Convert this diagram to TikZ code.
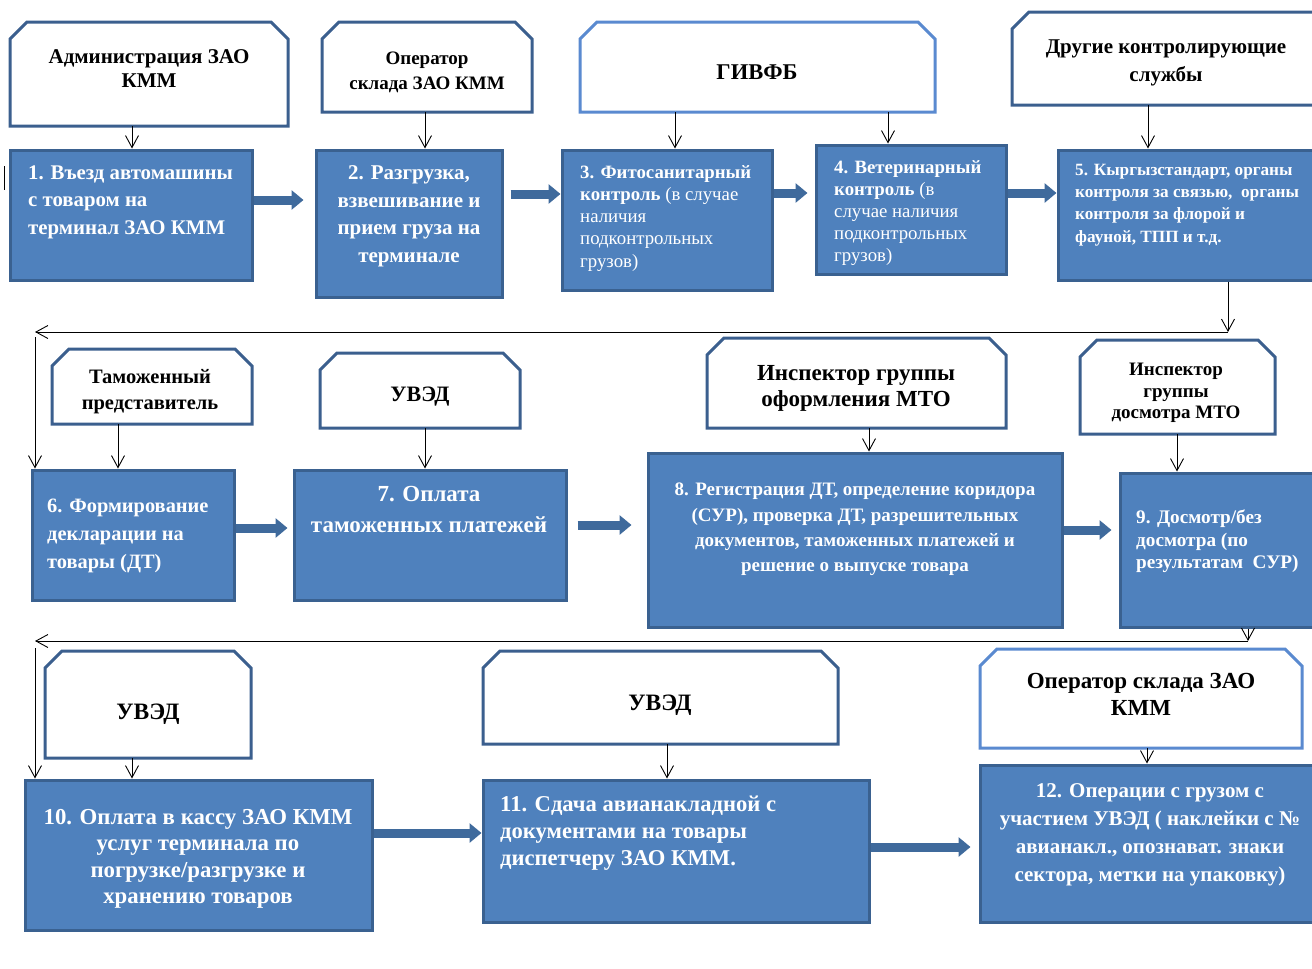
\documentclass[tikz,border=0pt]{standalone}
\usepackage{fontspec}
\setmainfont{Liberation Serif}
\usetikzlibrary{arrows.meta,fit,calc}
\definecolor{bfill}{HTML}{4F81BD}
\definecolor{bdraw}{HTML}{3A6190}
\definecolor{wdraw}{HTML}{3B5F8E}
\definecolor{wlight}{HTML}{5A8AD0}
\definecolor{farrow}{HTML}{3F6A9C}
\newcommand\myfs[2]{\fontsize{#1}{#2}\selectfont}
\tikzset{
 bbox/.style={draw=bdraw, fill=bfill, line width=3pt, inner sep=0pt},
 wshape/.style={draw=wdraw, fill=white, line width=3pt, line join=miter},
 wshapel/.style={wshape, draw=wlight},
 frame/.style={inner sep=0pt, outer sep=0pt, draw=none},
 wtext/.style={inner sep=0pt, align=center, text=black},
 btext/.style={inner sep=0pt, text=white},
 thinarr/.style={draw=black, line width=0.9pt, -{Straight Barb[length=12pt,width=13pt]}},
 fat/.style={draw=farrow, line width=9pt, -{Triangle[length=12pt,width=19pt]}},
}
\newcommand\wbox[6]{%
 \node[frame, fit={(#3,#4) (#5,#6)}] (#2) {};
 \draw[#1] (#2.south west) -- ($(#2.north west)+(0,17)$) -- ($(#2.north west)+(17,0)$) -- ($(#2.north east)+(-17,0)$) -- ($(#2.north east)+(0,17)$) -- (#2.south east) -- cycle;
}
\newcommand\bbx[5]{\node[bbox, fit={(#2,#3) (#4,#5)}] (#1) {};}
\begin{document}
\begin{tikzpicture}[x=1pt,y=-1pt]
\useasboundingbox (0,0) rectangle (1312,969);
\fill[white] (0,0) rectangle (1312,969);
% ---------- row 1 ----------
\wbox{wshape}{a1}{10}{22}{288}{126}
\wbox{wshape}{a2}{322}{22}{532}{112}
\wbox{wshapel}{a3}{580}{22}{935}{112}
\wbox{wshape}{a4}{1012}{12}{1330}{105}
\node[wtext, anchor=north, font={\myfs{21}{24}\bfseries}] (a1t) at (149,49.5) {Администрация ЗАО\\КММ};
\node[wtext, anchor=north, font={\myfs{19}{25}\bfseries}] (a2t) at (427,52) {Оператор\\склада ЗАО КММ};
\node[wtext, anchor=base, font={\myfs{22.5}{25}\bfseries}] (a3t) at (757,79.5) {ГИВФБ};
\node[wtext, anchor=north, font={\myfs{21}{28}\bfseries}] (a4t) at (1166,39.5) {Другие контролирующие\\службы};

\bbx{b1}{10}{150}{252}{280}
\bbx{b2}{316}{150}{502}{297}
\bbx{b3}{562}{150}{772}{290}
\bbx{b4}{816}{145}{1006}{274}
\bbx{b5}{1058}{150}{1330}{280}
\node[btext, anchor=north west, align=left, font={\myfs{20.8}{27.5}\bfseries}] (b1t) at (28,165.5) {1. Въезд автомашины\\с товаром на\\терминал ЗАО КММ};
\node[btext, anchor=north, align=center, font={\myfs{21}{27.5}\bfseries}] (b2t) at (409,165.5) {2. Разгрузка,\\взвешивание и\\прием груза на\\терминале};
\node[btext, anchor=north west, align=left, font={\myfs{18.8}{22.2}}] (b3t) at (580,165.2) {\textbf{3. Фитосанитарный}\\\textbf{контроль} (в случае\\наличия\\подконтрольных\\грузов)};
\node[btext, anchor=north west, align=left, font={\myfs{18.8}{22}}] (b4t) at (834,160) {\textbf{4. Ветеринарный}\\\textbf{контроль} (в\\случае наличия\\подконтрольных\\грузов)};
\node[btext, anchor=north west, align=left, font={\myfs{17.2}{22.3}\bfseries}] (b5t) at (1075,163.8) {5. Кыргызстандарт, органы\\контроля за связью,\ \ органы\\контроля за флорой и\\фауной, ТПП и т.д.};

\draw[thinarr] (a1.south -| 132,0) -- (b1.north -| 132,0);
\draw[thinarr] (a2.south -| 425,0) -- (b2.north -| 425,0);
\draw[thinarr] (a3.south -| 675,0) -- (b3.north -| 675,0);
\draw[thinarr] (a3.south -| 888,0) -- (b4.north -| 888,0);
\draw[thinarr] (a4.south -| 1148,0) -- (b5.north -| 1148,0);

\draw[fat, shorten >=11pt] (b1.east |- 0,200) -- (b2.west |- 0,200);
\draw[fat, shorten <=7pt] (b2.east |- 0,194) -- (b3.west |- 0,194);
\draw[fat, shorten >=7pt] (b3.east |- 0,193) -- (b4.west |- 0,193);
\draw[fat] (b4.east |- 0,193) -- (b5.west |- 0,193);

\draw[line width=1pt] (4,166) -- (4,190);

% ---------- transition 1 ----------
\coordinate (t1r) at (1228,332);
\coordinate (t1l) at (35,332);
\coordinate (t1d) at (35,337);
\draw[thinarr] (b5.south -| t1r) -- (t1r);
\draw[thinarr] (t1r) -- (t1l);

% ---------- row 2 ----------
\wbox{wshape}{c1}{52}{349}{252}{424}
\wbox{wshape}{c2}{320}{353}{520}{428}
\wbox{wshape}{c3}{707}{338}{1006}{428}
\wbox{wshape}{c4}{1080}{340}{1275}{434}
\node[wtext, anchor=north, font={\myfs{20.5}{26}\bfseries}] (c1t) at (150,369.6) {Таможенный\\представитель};
\node[wtext, anchor=base, font={\myfs{22}{24}\bfseries}] (c2t) at (420,401) {УВЭД};
\node[wtext, anchor=north, font={\myfs{23}{26}\bfseries}] (c3t) at (856,365.7) {Инспектор группы\\оформления МТО};
\node[wtext, anchor=north, font={\myfs{19}{21.5}\bfseries}] (c4t) at (1176,363) {Инспектор\\группы\\досмотра МТО};

\bbx{d1}{32}{470}{234}{600}
\bbx{d2}{294}{470}{566}{600}
\bbx{d3}{648}{453}{1062}{627}
\bbx{d4}{1120}{473}{1330}{627}
\node[btext, anchor=north west, align=left, font={\myfs{20.4}{28}\bfseries}] (d1t) at (47,498.7) {6. Формирование\\декларации на\\товары (ДТ)};
\node[btext, anchor=north, align=center, font={\myfs{23}{31}\bfseries}] (d2t) at (429,485.7) {7. Оплата\\таможенных платежей};
\node[btext, anchor=north, align=center, font={\myfs{19}{25.3}\bfseries}] (d3t) at (855,483) {8. Регистрация ДТ, определение коридора\\(СУР), проверка ДТ, разрешительных\\документов, таможенных платежей и\\решение о выпуске товара};
\node[btext, anchor=north west, align=left, font={\myfs{19.2}{22.5}\bfseries}] (d4t) at (1136,510) {9. Досмотр/без\\досмотра (по\\результатам\ \ СУР)};

\draw[thinarr] (t1d) -- (d1.north -| t1d);
\draw[thinarr] (c1.south -| 118,0) -- (d1.north -| 118,0);
\draw[thinarr] (c2.south -| 425,0) -- (d2.north -| 425,0);
\draw[thinarr] (c3.south -| 869,0) -- (d3.north -| 869,0);
\draw[thinarr] (c4.south -| 1177,0) -- (d4.north -| 1177,0);

\draw[fat, shorten >=5pt] (d1.east |- 0,528) -- (d2.west |- 0,528);
\draw[fat, shorten <=10pt, shorten >=15pt] (d2.east |- 0,525) -- (d3.west |- 0,525);
\draw[fat, shorten >=7pt] (d3.east |- 0,530) -- (d4.west |- 0,530);

% ---------- transition 2 ----------
\coordinate (t2r) at (1248,641);
\coordinate (t2l) at (35,641);
\coordinate (t2d) at (35,648);
\draw[thinarr] (d4.south -| t2r) -- (t2r);
\draw[thinarr] (t2r) -- (t2l);

% ---------- row 3 ----------
\wbox{wshape}{e1}{45}{651}{251}{758}
\wbox{wshape}{e2}{483}{651}{838}{744}
\wbox{wshapel}{e3}{980}{649}{1302}{748}
\node[wtext, anchor=base, font={\myfs{23.5}{24}\bfseries}] (e1t) at (148,719) {УВЭД};
\node[wtext, anchor=base, font={\myfs{23.5}{24}\bfseries}] (e2t) at (660,710) {УВЭД};
\node[wtext, anchor=north, font={\myfs{23}{27}\bfseries}] (e3t) at (1141,672.7) {Оператор склада ЗАО\\КММ};

\bbx{f1}{25}{780}{372}{930}
\bbx{f2}{483}{780}{869}{922}
\bbx{f3}{980}{765}{1330}{922}
\node[btext, anchor=north, align=center, font={\myfs{22.8}{26.5}\bfseries}] (f1t) at (198,808.8) {10. Оплата в кассу ЗАО КММ\\услуг терминала по\\погрузке/разгрузке и\\хранению товаров};
\node[btext, anchor=north west, align=left, font={\myfs{22.6}{27}\bfseries}] (f2t) at (500,796) {11. Сдача авианакладной с\\документами на товары\\диспетчеру ЗАО КММ.};
\node[btext, anchor=north, align=center, font={\myfs{21}{28}\bfseries}] (f3t) at (1150,783.4) {12. Операции с грузом с\\участием УВЭД ( наклейки с №\\авианакл., опознават. знаки\\сектора, метки на упаковку)};

\draw[thinarr] (t2d) -- (f1.north -| t2d);
\draw[thinarr] (e1.south -| 132,0) -- (f1.north -| 132,0);
\draw[thinarr] (e2.south -| 667,0) -- (f2.north -| 667,0);
\draw[thinarr] (e3.south -| 1147,0) -- (f3.north -| 1147,0);

\draw[fat] (f1.east |- 0,833) -- (f2.west |- 0,833);
\draw[fat, shorten >=8pt] (f2.east |- 0,847) -- (f3.west |- 0,847);
\end{tikzpicture}
\end{document}
